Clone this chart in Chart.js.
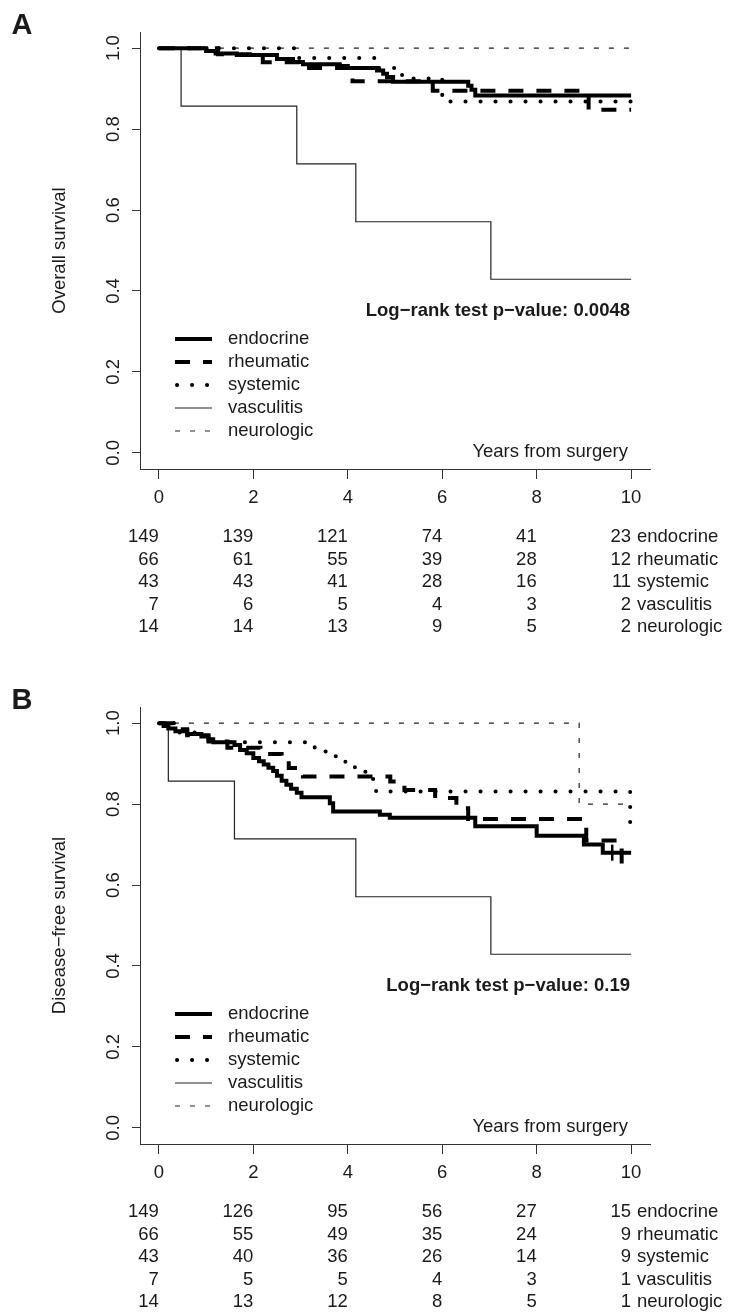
<!DOCTYPE html>
<html>
<head>
<meta charset="utf-8">
<script src="https://cdn.jsdelivr.net/npm/chart.js@4.4.1/dist/chart.umd.min.js"></script>
<style>
  html, body { margin: 0; padding: 0; background: #fff; }
  canvas { display: block; }
</style>
</head>
<body>
<canvas id="chartA" width="732" height="675"></canvas>
<canvas id="chartB" width="732" height="637"></canvas>
<script>
// Kaplan-Meier curves, two panels (overall / disease-free survival)
const groups = ['endocrine', 'rheumatic', 'systemic', 'vasculitis', 'neurologic'];
const xTicks = [0, 2, 4, 6, 8, 10];
const yTicks = [0, 0.2, 0.4, 0.6, 0.8, 1.0];

// Panel A - overall survival (time in years, survival)
const osEndoT = [0, 1.0, 1.2, 1.65, 2.5, 2.84, 3.05, 3.83, 4.0, 4.62, 4.75, 4.83, 4.96, 6.55, 6.62, 6.7, 10];
const osEndoS = [1, 0.993, 0.987, 0.983, 0.973, 0.966, 0.96, 0.956, 0.951, 0.945, 0.937, 0.929, 0.917, 0.907, 0.897, 0.883, 0.883];
const osRheuT = [0, 1.25, 2.2, 3.1, 4.1, 5.8, 9.1, 10];
const osRheuS = [1, 0.985, 0.965, 0.951, 0.918, 0.895, 0.848, 0.848];
const osSystT = [0, 2.9, 4.65, 5.15, 6.0, 10];
const osSystS = [1, 0.976, 0.951, 0.925, 0.868, 0.868];
const osVascT = [0, 0.47, 2.92, 4.17, 7.03, 10];
const osVascS = [1, 0.857, 0.714, 0.571, 0.429, 0.429];
const osNeurT = [0, 10];
const osNeurS = [1, 1];

const osRiskEndo = [149, 139, 121, 74, 41, 23];
const osRiskRheu = [66, 61, 55, 39, 28, 12];
const osRiskSyst = [43, 43, 41, 28, 16, 11];
const osRiskVasc = [7, 6, 5, 4, 3, 2];
const osRiskNeur = [14, 14, 13, 9, 5, 2];

// Panel B - disease-free survival
const dfsEndoT = [0, 0.1, 0.2, 0.35, 0.6, 0.9, 1.05, 1.15, 1.6, 1.72, 1.86, 2.0, 2.12, 2.22, 2.32, 2.42, 2.5, 2.6, 2.7, 2.8, 2.92, 3.02, 3.62, 3.69, 4.68, 4.89, 6.7, 8.0, 9.0, 9.4, 10];
const dfsEndoS = [1, 0.993, 0.987, 0.98, 0.973, 0.967, 0.96, 0.953, 0.946, 0.934, 0.926, 0.914, 0.906, 0.898, 0.89, 0.882, 0.87, 0.858, 0.848, 0.838, 0.828, 0.817, 0.802, 0.782, 0.774, 0.766, 0.745, 0.722, 0.70, 0.68, 0.68];
const dfsRheuT = [0, 0.3, 0.6, 1.05, 1.45, 2.15, 2.6, 2.75, 3.05, 4.9, 5.2, 5.85, 6.3, 6.55, 9.05, 9.8, 10];
const dfsRheuS = [1, 0.985, 0.97, 0.955, 0.939, 0.924, 0.906, 0.889, 0.868, 0.856, 0.835, 0.815, 0.79, 0.763, 0.71, 0.645, 0.645];
const dfsSystT = [0, 0.4, 1.0, 3.3, 3.55, 3.75, 3.95, 4.15, 4.4, 4.6, 9.98, 10];
const dfsSystS = [1, 0.977, 0.953, 0.93, 0.918, 0.906, 0.894, 0.88, 0.862, 0.831, 0.745, 0.745];
const dfsVascT = [0, 0.2, 1.6, 4.17, 7.03, 10];
const dfsVascS = [1, 0.857, 0.714, 0.571, 0.429, 0.429];
const dfsNeurT = [0, 8.9, 10];
const dfsNeurS = [1, 0.8, 0.8];

const dfsRiskEndo = [149, 126, 95, 56, 27, 15];
const dfsRiskRheu = [66, 55, 49, 35, 24, 9];
const dfsRiskSyst = [43, 40, 36, 26, 14, 9];
const dfsRiskVasc = [7, 5, 5, 4, 3, 1];
const dfsRiskNeur = [14, 13, 12, 8, 5, 1];

// censoring marks that stand out
const dfsCensorT = [9.6];
const dfsCensorS = [0.68];

const FONT = "'Liberation Sans', Arial, Helvetica, sans-serif";
const INK = '#1a1a1a';
const AXIS = '#333333';

// line look for each group, same order as groups
const lineStyles = [
  { width: 4, dash: [], cap: 'butt', color: '#000' },
  { width: 4, dash: [15, 13], cap: 'butt', color: '#000' },
  { width: 4, dash: [0.1, 14.9], cap: 'round', color: '#000' },
  { width: 1.2, dash: [], cap: 'butt', color: '#222' },
  { width: 1.2, dash: [5, 10], cap: 'butt', color: '#222' }
];

function toPoints(ts, ss) {
  return ts.map((t, i) => ({ x: t, y: ss[i] }));
}

function kmDatasets(curves) {
  return curves.map((c, i) => ({
    label: groups[i],
    data: toPoints(c[0], c[1]),
    stepped: 'before',
    borderColor: lineStyles[i].color,
    borderWidth: lineStyles[i].width,
    borderDash: lineStyles[i].dash,
    borderCapStyle: lineStyles[i].cap,
    pointRadius: 0,
    fill: false
  }));
}

// draws letter, rotated y labels, legend, p-value text and risk table
const kmExtras = {
  id: 'kmExtras',
  afterDraw(chart, args, opts) {
    const ctx = chart.ctx;
    const xs = chart.scales.x, ys = chart.scales.y;
    const area = chart.chartArea;
    ctx.save();
    ctx.fillStyle = INK;

    // panel letter
    ctx.font = 'bold 29px ' + FONT;
    ctx.textAlign = 'center';
    ctx.textBaseline = 'middle';
    ctx.fillText(opts.letter, 22, 26);

    // y tick labels (rotated like R)
    ctx.font = '18.5px ' + FONT;
    yTicks.forEach(v => {
      ctx.save();
      ctx.translate(114, ys.getPixelForValue(v));
      ctx.rotate(-Math.PI / 2);
      ctx.fillText(v.toFixed(1), 0, 0);
      ctx.restore();
    });

    // y title
    ctx.save();
    ctx.translate(60, (area.top + area.bottom) / 2);
    ctx.rotate(-Math.PI / 2);
    ctx.fillText(opts.yTitle, 0, 0);
    ctx.restore();

    // p-value
    ctx.font = 'bold 18.5px ' + FONT;
    ctx.textAlign = 'right';
    ctx.fillText(opts.pText, 630, 311);

    // x title inside the plot
    ctx.font = '18.5px ' + FONT;
    ctx.fillText('Years from surgery', 628, 452);

    // legend
    ctx.textAlign = 'left';
    groups.forEach((g, i) => {
      const y = 339 + 23 * i;
      const st = lineStyles[i];
      ctx.save();
      ctx.strokeStyle = st.color;
      ctx.lineWidth = st.width;
      ctx.setLineDash(st.dash);
      ctx.lineCap = st.cap;
      ctx.beginPath();
      ctx.moveTo(st.cap === 'round' ? 177 : 175, y);
      ctx.lineTo(212, y);
      ctx.stroke();
      ctx.restore();
      ctx.fillText(g, 228, y);
    });

    // number at risk table
    opts.risk.forEach((row, i) => {
      const y = 537 + 22.5 * i;
      ctx.textAlign = 'right';
      row.forEach((n, j) => {
        ctx.fillText(String(n), xs.getPixelForValue(xTicks[j]), y);
      });
      ctx.textAlign = 'left';
      ctx.fillText(groups[i], 637, y);
    });
    ctx.restore();
  }
};

function makeOptions(extras, canvasHeight) {
  return {
    responsive: false,
    animation: false,
    events: [],
    layout: { padding: { left: 0, top: 32, right: 82, bottom: canvasHeight - 469 - 50 } },
    plugins: {
      legend: { display: false },
      tooltip: { enabled: false },
      kmExtras: extras
    },
    scales: {
      x: {
        type: 'linear',
        min: -0.4,
        max: 10.4,
        afterBuildTicks: s => { s.ticks = xTicks.map(v => ({ value: v })); },
        afterFit: s => { s.height = 50; },
        grid: { drawOnChartArea: false, drawTicks: true, tickLength: 10, color: AXIS },
        border: { display: true, color: AXIS, width: 1 },
        ticks: { color: INK, font: { family: FONT, size: 18.5 }, padding: 8, maxRotation: 0, autoSkip: false }
      },
      y: {
        type: 'linear',
        min: -0.04,
        max: 1.04,
        afterBuildTicks: s => { s.ticks = yTicks.map(v => ({ value: v })); },
        afterFit: s => { s.width = 140; },
        grid: { drawOnChartArea: false, drawTicks: true, tickLength: 8, color: AXIS },
        border: { display: true, color: AXIS, width: 1 },
        ticks: { display: false }
      }
    }
  };
}

document.addEventListener('DOMContentLoaded', function() {
  const dsA = kmDatasets([
    [osEndoT, osEndoS], [osRheuT, osRheuS], [osSystT, osSystS], [osVascT, osVascS], [osNeurT, osNeurS]
  ]);
  new Chart(document.getElementById('chartA'), {
    type: 'line',
    data: { datasets: dsA },
    options: makeOptions({
      letter: 'A',
      yTitle: 'Overall survival',
      pText: 'Log\u2212rank test p\u2212value: 0.0048',
      risk: [osRiskEndo, osRiskRheu, osRiskSyst, osRiskVasc, osRiskNeur]
    }, 675),
    plugins: [kmExtras]
  });

  const dsB = kmDatasets([
    [dfsEndoT, dfsEndoS], [dfsRheuT, dfsRheuS], [dfsSystT, dfsSystS], [dfsVascT, dfsVascS], [dfsNeurT, dfsNeurS]
  ]);
  dsB.push({
    label: 'censored',
    type: 'scatter',
    data: toPoints(dfsCensorT, dfsCensorS),
    pointStyle: 'line',
    rotation: 90,
    pointRadius: 8,
    borderColor: '#000',
    borderWidth: 2.5,
    showLine: false
  });
  new Chart(document.getElementById('chartB'), {
    type: 'line',
    data: { datasets: dsB },
    options: makeOptions({
      letter: 'B',
      yTitle: 'Disease\u2212free survival',
      pText: 'Log\u2212rank test p\u2212value: 0.19',
      risk: [dfsRiskEndo, dfsRiskRheu, dfsRiskSyst, dfsRiskVasc, dfsRiskNeur]
    }, 637),
    plugins: [kmExtras]
  });
});
</script>
</body>
</html>
